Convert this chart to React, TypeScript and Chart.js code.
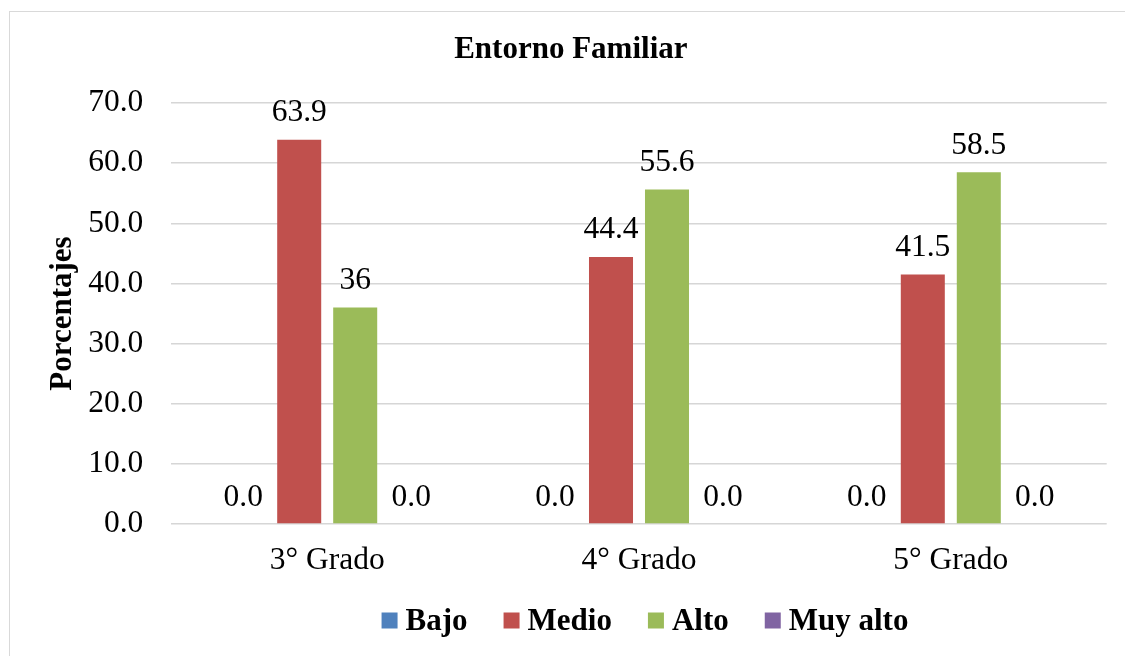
import React, { useEffect, useRef } from "react";
import { Chart, registerables } from "chart.js";

Chart.register(...registerables);

const categories = ["3° Grado", "4° Grado", "5° Grado"];
const seriesNames = ["Bajo", "Medio", "Alto", "Muy alto"];
const bajo = [0, 0, 0];
const medio = [63.9, 44.4, 41.5];
const alto = [36, 55.6, 58.5];
const muyAlto = [0, 0, 0];
const bajoLabels = ["0.0", "0.0", "0.0"];
const medioLabels = ["63.9", "44.4", "41.5"];
const altoLabels = ["36", "55.6", "58.5"];
const muyAltoLabels = ["0.0", "0.0", "0.0"];
const yTicks = [0, 10, 20, 30, 40, 50, 60, 70];
const colors = ["#4F81BD", "#C0504D", "#9BBB59", "#8064A2"];

const FONT = "'Liberation Serif', 'Times New Roman', serif";

const borderPlugin = {
  id: "outerBorder",
  beforeDraw(chart: any) {
    const ctx = chart.ctx;
    ctx.save();
    ctx.fillStyle = "#ffffff";
    ctx.fillRect(0, 0, chart.width, chart.height);
    ctx.strokeStyle = "#d9d9d9";
    ctx.lineWidth = 1;
    ctx.strokeRect(9.5, 11.5, chart.width + 20, chart.height + 20);
    ctx.restore();
  },
};

const dataLabelPlugin = {
  id: "dataLabels",
  afterDatasetsDraw(chart: any) {
    const ctx = chart.ctx;
    ctx.save();
    ctx.font = `31.5px ${FONT}`;
    ctx.fillStyle = "#000000";
    ctx.textAlign = "center";
    ctx.textBaseline = "alphabetic";
    chart.data.datasets.forEach((ds: any, i: number) => {
      const meta = chart.getDatasetMeta(i);
      meta.data.forEach((bar: any, j: number) => {
        const txt = ds.valueLabels[j];
        ctx.fillText(txt, bar.x, bar.y - 18.5);
      });
    });
    ctx.restore();
  },
};

const legendPlugin = {
  id: "customLegend",
  afterDraw(chart: any) {
    const ctx = chart.ctx;
    ctx.save();
    ctx.font = `bold 31px ${FONT}`;
    ctx.textBaseline = "alphabetic";
    ctx.textAlign = "left";
    const box = 16;
    const gapText = 8;
    const gapItem = 36;
    const items = chart.data.datasets.map((ds: any) => ({
      label: ds.label,
      color: ds.backgroundColor,
      w: ctx.measureText(ds.label).width,
    }));
    const total =
      items.reduce((s: number, it: any) => s + box + gapText + it.w, 0) +
      gapItem * (items.length - 1);
    const cx = (chart.chartArea.left + chart.chartArea.right) / 2 + 6;
    let x = cx - total / 2;
    const baseline = 629.5;
    items.forEach((it: any) => {
      ctx.fillStyle = it.color;
      ctx.fillRect(x, baseline - 17, box, box);
      ctx.fillStyle = "#000000";
      ctx.fillText(it.label, x + box + gapText, baseline);
      x += box + gapText + it.w + gapItem;
    });
    ctx.restore();
  },
};

export default function App() {
  const ref = useRef<HTMLCanvasElement | null>(null);

  useEffect(() => {
    if (!ref.current) return;
    const seriesData = [bajo, medio, alto, muyAlto];
    const seriesLabels = [bajoLabels, medioLabels, altoLabels, muyAltoLabels];
    const chart = new Chart(ref.current, {
      type: "bar",
      data: {
        labels: categories,
        datasets: seriesNames.map((name, i) => ({
          label: name,
          data: seriesData[i],
          valueLabels: seriesLabels[i],
          backgroundColor: colors[i],
          borderWidth: 0,
          categoryPercentage: 0.7184,
          barPercentage: 0.786,
        })) as any,
      },
      options: {
        responsive: false,
        animation: false,
        devicePixelRatio: 1,
        layout: { padding: { left: 35, right: 18.3, top: 12, bottom: 76 } },
        plugins: {
          legend: { display: false },
          tooltip: { enabled: false },
          title: {
            display: true,
            text: "Entorno Familiar",
            color: "#000000",
            font: { family: FONT, size: 31, weight: "bold" },
            padding: { top: 19.4, bottom: 34.4 },
          },
        },
        scales: {
          x: {
            grid: { display: false, drawTicks: false },
            border: { display: false },
            ticks: {
              color: "#000000",
              font: { family: FONT, size: 31.5 },
              padding: 18,
              maxRotation: 0,
            },
            afterFit: (s: any) => {
              s.height = 56;
            },
          },
          y: {
            min: 0,
            max: 70,
            grid: { color: "#d6d6d6", lineWidth: 1.5, drawTicks: false },
            border: { display: false },
            afterBuildTicks: (s: any) => {
              s.ticks = yTicks.map((v) => ({ value: v }));
            },
            ticks: {
              color: "#000000",
              font: { family: FONT, size: 31.5 },
              padding: 28,
              callback: (v: any) => Number(v).toFixed(1),
            },
            title: {
              display: true,
              text: "Porcentajes",
              color: "#000000",
              font: { family: FONT, size: 31, weight: "bold" },
              padding: { top: 9, bottom: 0 },
            },
            afterFit: (s: any) => {
              s.width = 136.3;
            },
          },
        },
      },
      plugins: [borderPlugin, dataLabelPlugin, legendPlugin],
    });
    return () => chart.destroy();
  }, []);

  return (
    <div style={{ position: "absolute", left: 0, top: 0, width: 1125, height: 656 }}>
      <canvas ref={ref} width={1125} height={656} />
    </div>
  );
}
